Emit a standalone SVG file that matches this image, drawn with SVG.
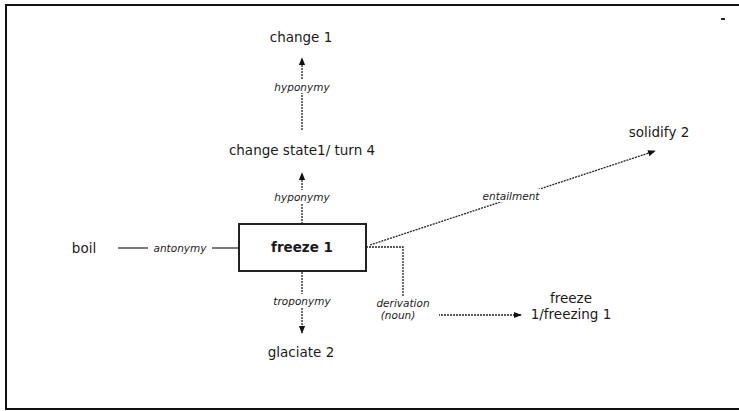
<svg xmlns="http://www.w3.org/2000/svg" width="739" height="411" viewBox="0 0 739 411">
<defs>
<style>
.node{font-family:"DejaVu Sans","Liberation Sans",Arial,sans-serif;font-size:13.5px;fill:#1a1a1a;text-anchor:middle}
.rel{font-family:"DejaVu Sans","Liberation Sans",Arial,sans-serif;font-size:10.5px;font-style:italic;fill:#222;text-anchor:middle}
.con{stroke:#222;stroke-width:1.3;fill:none;stroke-dasharray:2 1}
.solid{stroke:#222;stroke-width:1.2;fill:none}
.lbl{fill:#fff}
</style>
<marker id="ah" viewBox="0 0 10 10" refX="9" refY="5" markerWidth="6" markerHeight="6" orient="auto">
<path d="M0,1 L10,5 L0,9 Z" fill="#111"/>
</marker>
</defs>
<rect width="739" height="411" fill="#fff"/>
<rect x="6" y="5" width="740" height="404" fill="none" stroke="#111" stroke-width="2"/>
<rect x="721" y="18" width="4" height="2" fill="#222"/>

<g id="connectors">
<line class="con" x1="302" y1="130" x2="302" y2="58" marker-end="url(#ah)"/>
<line class="con" x1="302" y1="224" x2="302" y2="173" marker-end="url(#ah)"/>
<line class="solid" x1="118" y1="248" x2="148" y2="248"/>
<line class="solid" x1="212" y1="248" x2="238" y2="248"/>
<line class="con" x1="302" y1="272" x2="302" y2="333" marker-end="url(#ah)"/>
<polyline class="con" points="366,247 403,247 403,297"/>
<line class="con" x1="435" y1="315" x2="521" y2="315" marker-end="url(#ah)"/>
<line class="con" x1="370" y1="245" x2="655" y2="151" stroke-dasharray="4 2" marker-end="url(#ah)"/>
<rect class="lbl" x="268" y="80" width="68" height="13"/>
<text class="rel" x="302" y="91">hyponymy</text>
<rect class="lbl" x="268" y="190" width="68" height="13"/>
<text class="rel" x="302" y="201">hyponymy</text>
<text class="rel" x="180" y="252">antonymy</text>
<rect class="lbl" x="262" y="294" width="80" height="13"/>
<text class="rel" x="302" y="305">troponymy</text>
<rect class="lbl" x="367" y="297" width="72" height="24"/>
<text class="rel" x="403" y="307">derivation</text>
<text class="rel" x="398" y="319">(noun)</text>
<rect class="lbl" x="476" y="189" width="70" height="13"/>
<text class="rel" x="511" y="200">entailment</text>
</g>

<g id="change1"><text class="node" x="301" y="42">change 1</text></g>
<g id="changestate"><text class="node" x="302" y="155">change state1/ turn 4</text></g>
<g id="freeze1">
<rect x="239" y="224" width="127" height="47" fill="#fff" stroke="#222" stroke-width="2"/>
<text class="node" x="302" y="252" font-weight="bold">freeze 1</text>
</g>
<g id="boil"><text class="node" x="84" y="253">boil</text></g>
<g id="glaciate"><text class="node" x="301" y="357">glaciate 2</text></g>
<g id="solidify"><text class="node" x="659" y="137">solidify 2</text></g>
<g id="freezing">
<text class="node" x="571" y="303">freeze</text>
<text class="node" x="571" y="319">1/freezing 1</text>
</g>
</svg>
